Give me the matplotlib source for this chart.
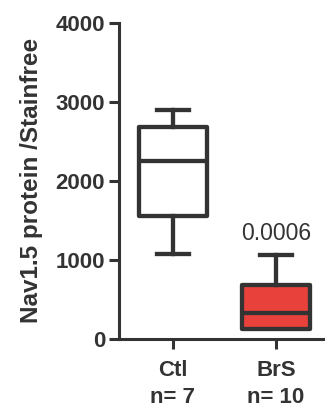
import matplotlib
matplotlib.use("Agg")
import matplotlib.pyplot as plt

plt.rcParams['font.family'] = ['Liberation Sans', 'DejaVu Sans']

# box summary
groups = ['Ctl\nn= 7', 'BrS\nn= 10']
whisker_low = [1080, 122]
q1 = [1555, 122]
median = [2255, 325]
q3 = [2676, 683]
whisker_high = [2895, 1062]
fills = ['white', '#E8413B']
p_label = '0.0006'

dark = '#333333'

fig = plt.figure(figsize=(3.25, 4.12), dpi=100)
ax = fig.add_axes([0.366, 0.177, 0.634, 0.768])

stats = []
for i in range(len(groups)):
    stats.append({'whislo': whisker_low[i], 'q1': q1[i], 'med': median[i],
                  'q3': q3[i], 'whishi': whisker_high[i], 'fliers': []})

bp = ax.bxp(stats, positions=[1, 2], widths=0.66, patch_artist=True,
            showfliers=False, capwidths=0.31,
            boxprops=dict(edgecolor=dark, linewidth=3.1),
            medianprops=dict(color=dark, linewidth=3.1),
            whiskerprops=dict(color=dark, linewidth=3.1),
            capprops=dict(color=dark, linewidth=3.1))
for patch, c in zip(bp['boxes'], fills):
    patch.set_facecolor(c)
    patch.set_joinstyle('round')
# no visible lower whisker for BrS
bp['caps'][2].set_visible(False)

ax.text(2, whisker_high[1] + 130, p_label, ha='center', va='bottom',
        fontsize=16.5, color=dark)

ax.set_xlim(0.476, 2.476)
ax.set_ylim(0, 4000)
ax.set_yticks([0, 1000, 2000, 3000, 4000])
ax.set_xticks([1, 2])
ax.set_xticklabels(groups, fontsize=16, fontweight='bold', color=dark,
                   linespacing=1.35)
for lab in ax.get_yticklabels():
    lab.set_fontsize(16)
    lab.set_fontweight('bold')
    lab.set_color(dark)
ax.tick_params(axis='both', width=2.2, length=7, color=dark, pad=3)
ax.tick_params(axis='x', pad=8)

ax.set_ylabel('Nav1.5 protein /Stainfree', fontsize=17.5, fontweight='bold',
              color=dark, labelpad=9)

for s in ['top', 'right']:
    ax.spines[s].set_visible(False)
for s in ['left', 'bottom']:
    ax.spines[s].set_linewidth(2.2)
    ax.spines[s].set_color(dark)

fig.savefig('out.png', dpi=100)
